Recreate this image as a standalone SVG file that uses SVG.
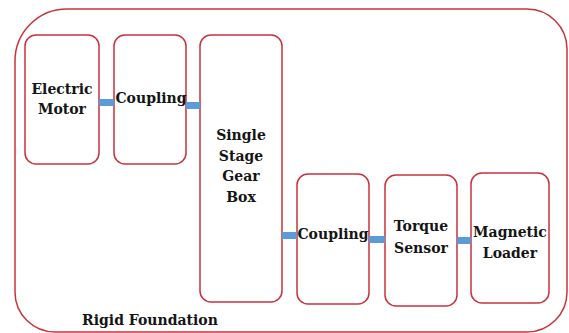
<svg xmlns="http://www.w3.org/2000/svg" width="569" height="333" viewBox="0 0 569 333">
<style>
.frame{fill:none;stroke:#c8323c;stroke-width:1.5}
.box{fill:#fff;stroke:#c8323c;stroke-width:1.5}
.lbl{font-family:"DejaVu Serif","Liberation Serif",serif;font-weight:bold;font-size:14px;fill:#151515;text-anchor:middle}
.shaft{fill:#5a9bd8}
</style>
<rect x="0" y="0" width="569" height="333" fill="#fff"/>
<g id="foundation">
<path class="frame" d="M15,61 A52,52 0 0 1 67,9 L527,9 A40,40 0 0 1 567,49 L567,292 A40,40 0 0 1 527,332 L55,332 A40,40 0 0 1 15,292 Z"/>
<text class="lbl" x="150" y="325">Rigid Foundation</text>
</g>
<g id="motor">
<rect class="box" x="25" y="35" width="74" height="129" rx="11"/>
<text class="lbl" x="62" y="94">Electric</text>
<text class="lbl" x="62" y="114">Motor</text>
</g>
<g id="coupling1">
<rect class="box" x="114" y="35" width="72" height="129" rx="11"/>
<text class="lbl" x="151" y="103">Coupling</text>
</g>
<g id="gearbox">
<rect class="box" x="200" y="35" width="82" height="267" rx="11"/>
<text class="lbl" x="241" y="140">Single</text>
<text class="lbl" x="241" y="161">Stage</text>
<text class="lbl" x="241" y="181">Gear</text>
<text class="lbl" x="241" y="202">Box</text>
</g>
<g id="coupling2">
<rect class="box" x="297" y="174" width="72" height="130" rx="11"/>
<text class="lbl" x="333" y="239">Coupling</text>
</g>
<g id="torque">
<rect class="box" x="385" y="175" width="72" height="131" rx="11"/>
<text class="lbl" x="421" y="231">Torque</text>
<text class="lbl" x="421" y="253">Sensor</text>
</g>
<g id="loader">
<rect class="box" x="471" y="173" width="78" height="130" rx="11"/>
<text class="lbl" x="510" y="237">Magnetic</text>
<text class="lbl" x="510" y="258">Loader</text>
</g>
<g id="connectors">
<rect class="shaft" x="99" y="99" width="15" height="7"/>
<rect class="shaft" x="186" y="102" width="14" height="7"/>
<rect class="shaft" x="282" y="232" width="15" height="7"/>
<rect class="shaft" x="369" y="236" width="16" height="7"/>
<rect class="shaft" x="457" y="237" width="14" height="7"/>
</g>
</svg>
